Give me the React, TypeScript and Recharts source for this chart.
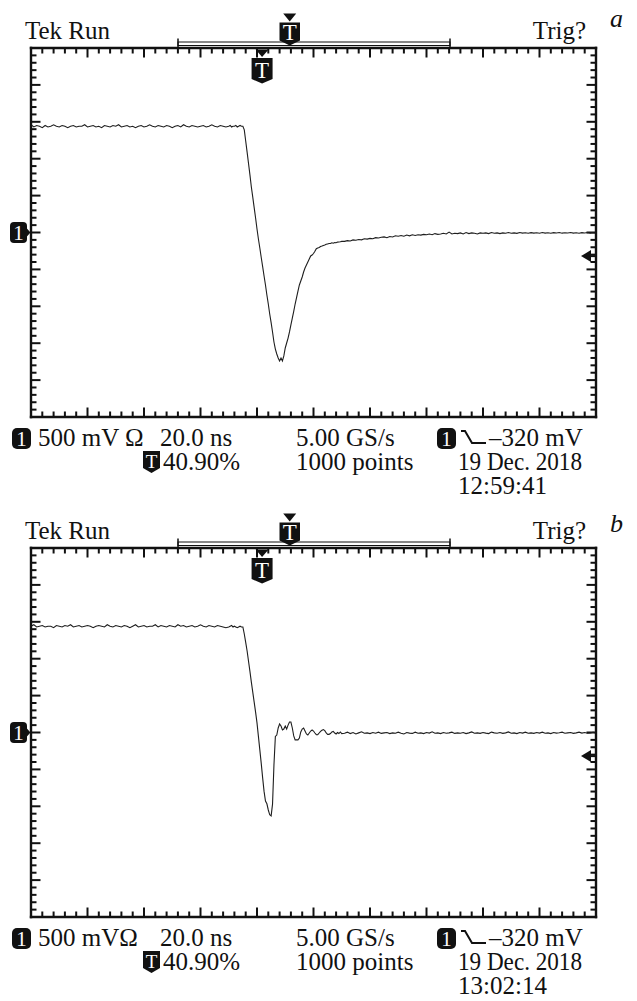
import React from 'react';
import { LineChart, Line, XAxis, YAxis, ReferenceLine } from 'recharts';

const FONT = "'Liberation Serif', 'Times New Roman', Times, serif";

// ---- sampling grid (ns): 1 ns outside the edge, 0.5 ns around the edge ----
function sampleGrid(start: number, end: number, step: number): number[] {
  const out: number[] = [];
  for (let t = start; t <= end + 1e-9; t += step) out.push(Math.round(t * 10) / 10);
  return out;
}
const timeNs = [...sampleGrid(0, 70, 1), ...sampleGrid(70.5, 110, 0.5), ...sampleGrid(111, 200, 1)];

// ---- panel a trace (V) ----
const preA = [
  1.46, 1.43, 1.45, 1.44, 1.42, 1.45, 1.43, 1.44, 1.46, 1.44,
  1.43, 1.45, 1.44, 1.42, 1.44, 1.45, 1.43, 1.44, 1.44, 1.46,
  1.43, 1.44, 1.45, 1.43, 1.44, 1.42, 1.45, 1.44, 1.43, 1.45,
  1.44, 1.46, 1.43, 1.44, 1.45, 1.43, 1.44, 1.42, 1.44, 1.45,
  1.43, 1.44, 1.46, 1.44, 1.43, 1.45, 1.44, 1.43, 1.45, 1.44,
  1.42, 1.44, 1.45, 1.43, 1.46, 1.44, 1.43, 1.45, 1.44, 1.43,
  1.44, 1.45, 1.43, 1.44, 1.46, 1.44, 1.43, 1.45, 1.44, 1.43,
  1.44,
];
const edgeA = [
  1.45, 1.43, 1.44, 1.44, 1.45, 1.43, 1.44, 1.45, 1.44, 1.44,
  1.39, 1.24, 1.09, 0.935, 0.78, 0.617, 0.48, 0.337, 0.196, 0.047,
  -0.088, -0.21, -0.339, -0.463, -0.589, -0.711, -0.847, -0.969, -1.104, -1.222,
  -1.348, -1.484, -1.579, -1.646, -1.7, -1.741, -1.7, -1.741, -1.673, -1.565,
  -1.497, -1.43, -1.348, -1.253, -1.159, -1.07, -0.969, -0.881, -0.793, -0.711,
  -0.657, -0.603, -0.535, -0.481, -0.44, -0.4, -0.359, -0.318, -0.305, -0.285,
  -0.255, -0.22, -0.21, -0.203, -0.19, -0.183, -0.175, -0.17, -0.16, -0.155,
  -0.15, -0.149, -0.14, -0.145, -0.135, -0.138, -0.13, -0.128, -0.125, -0.12,
];
const tailA = [
  -0.12, -0.11, -0.115, -0.1, -0.105, -0.095, -0.1, -0.085, -0.09, -0.08,
  -0.085, -0.07, -0.075, -0.065, -0.06, -0.07, -0.055, -0.06, -0.045, -0.05,
  -0.04, -0.05, -0.035, -0.045, -0.03, -0.04, -0.03, -0.035, -0.025, -0.03,
  -0.02, -0.03, -0.015, -0.025, -0.02, -0.01, -0.02, 0.005, -0.02, -0.01,
  -0.015, -0.005, -0.02, 0.0, -0.015, -0.005, -0.01, -0.02, -0.005, -0.01,
  -0.005, -0.015, 0.0, -0.01, -0.005, -0.015, -0.005, -0.01, 0.0, -0.01,
  -0.005, -0.012, 0.0, -0.008, -0.003, -0.01, -0.002, -0.008, -0.004, -0.01,
  0.0, -0.008, -0.003, -0.01, -0.002, -0.007, 0.0, -0.009, -0.003, -0.006,
  0.0, -0.008, -0.004, -0.01, -0.002, -0.006, 0.0, -0.008, -0.004, -0.006,
];

// ---- panel b trace (V) ----
const preB = [
  1.44, 1.46, 1.43, 1.44, 1.45, 1.43, 1.44, 1.44, 1.42, 1.45,
  1.44, 1.43, 1.45, 1.44, 1.46, 1.43, 1.44, 1.45, 1.43, 1.44,
  1.45, 1.44, 1.42, 1.44, 1.45, 1.44, 1.43, 1.46, 1.44, 1.43,
  1.45, 1.44, 1.43, 1.45, 1.44, 1.42, 1.44, 1.46, 1.43, 1.44,
  1.45, 1.43, 1.44, 1.44, 1.46, 1.43, 1.45, 1.44, 1.43, 1.45,
  1.44, 1.43, 1.46, 1.44, 1.45, 1.43, 1.44, 1.45, 1.43, 1.44,
  1.46, 1.44, 1.43, 1.45, 1.44, 1.43, 1.45, 1.44, 1.43, 1.42,
  1.43,
];
const edgeB = [
  1.44, 1.45, 1.43, 1.44, 1.43, 1.42, 1.43, 1.44, 1.43, 1.43,
  1.335, 1.22, 1.104, 0.966, 0.828, 0.683, 0.547, 0.412, 0.276, 0.13,
  -0.053, -0.236, -0.419, -0.615, -0.798, -0.928, -0.966, -1.05, -1.115, -1.13,
  -0.97, -0.44, -0.054, -0.034, 0.061, 0.115, 0.088, 0.034, 0.047, 0.088,
  0.047, 0.1, 0.142, 0.142, 0.061, -0.047, -0.1, -0.1, -0.1, -0.075,
  0.007, 0.047, 0.061, 0.02, -0.02, -0.034, -0.007, 0.02, 0.034, 0.02,
  -0.007, -0.03, -0.03, -0.007, 0.015, 0.03, 0.04, 0.025, -0.007, -0.025,
  -0.025, -0.015, 0.007, 0.015, -0.007, -0.02, 0.0, -0.014, 0.007, -0.015,
];
const tailB = [
  -0.01, 0.005, -0.015, 0.0, -0.02, -0.005, 0.01, -0.01, -0.005, -0.015,
  0.0, -0.01, 0.005, -0.012, -0.005, 0.0, -0.015, -0.005, -0.01, 0.005,
  -0.01, -0.02, 0.0, -0.008, -0.012, 0.005, -0.01, -0.005, -0.015, 0.0,
  -0.008, 0.01, -0.01, -0.005, -0.015, 0.0, -0.01, -0.005, 0.005, -0.012,
  -0.005, -0.01, 0.0, -0.015, -0.005, 0.008, -0.01, -0.005, -0.012, 0.0,
  -0.008, -0.015, 0.005, -0.005, -0.01, 0.0, -0.012, -0.005, 0.008, -0.01,
  -0.005, -0.015, 0.0, -0.008, 0.005, -0.01, -0.005, -0.012, 0.0, -0.008,
  0.005, -0.01, -0.005, -0.015, 0.0, -0.008, -0.003, 0.005, -0.01, -0.005,
  0.0, -0.012, -0.005, 0.005, -0.008, 0.0, -0.01, -0.005, 0.003, -0.005,
];

const traceA = [...preA, ...edgeA, ...tailA];
const traceB = [...preB, ...edgeB, ...tailB];

// ---- graticule ticks (every minor tick; majors every 20 ns / 0.5 V) ----
const xTicksNs = [
  0, 4, 8, 12, 16, 20, 24, 28, 32, 36, 40, 44, 48, 52, 56, 60, 64, 68, 72, 76, 80, 84, 88, 92, 96, 100,
  104, 108, 112, 116, 120, 124, 128, 132, 136, 140, 144, 148, 152, 156, 160, 164, 168, 172, 176, 180,
  184, 188, 192, 196, 200,
];
const yTicksV = [
  -2.5, -2.4, -2.3, -2.2, -2.1, -2, -1.9, -1.8, -1.7, -1.6, -1.5, -1.4, -1.3, -1.2, -1.1, -1, -0.9, -0.8,
  -0.7, -0.6, -0.5, -0.4, -0.3, -0.2, -0.1, 0, 0.1, 0.2, 0.3, 0.4, 0.5, 0.6, 0.7, 0.8, 0.9, 1, 1.1, 1.2,
  1.3, 1.4, 1.5, 1.6, 1.7, 1.8, 1.9, 2, 2.1, 2.2, 2.3, 2.4, 2.5,
];
const X_DIV_NS = 20;
const Y_DIV_V = 0.5;

const TRIGGER_TIME_NS = 81.8; // 40.90 % of 200 ns
const TRIGGER_LEVEL_V = -0.32;

const chartData = timeNs.map((t, i) => ({ t, a: traceA[i], b: traceB[i] }));

const INK = '#111';
const AXIS_THIN = 0.01; // axes need a positive size to render
const frameStyle = { stroke: INK, strokeWidth: 2.4, strokeLinecap: 'square' as const };
const TICK_W = 2;
const MAJOR_LEN = 9.5;
const MINOR_LEN = 5.5;

const isMultiple = (v: number, step: number) => Math.abs(v / step - Math.round(v / step)) < 1e-6;

// vertical reference line -> short tick marks at the top and bottom frame only
function vTickShape(major: boolean) {
  const len = major ? MAJOR_LEN : MINOR_LEN;
  return (p: any) => {
    const x = p.x1;
    const top = Math.min(p.y1, p.y2);
    const bot = Math.max(p.y1, p.y2);
    return (
      <g>
        <line x1={x} y1={top} x2={x} y2={top + len} stroke={INK} strokeWidth={TICK_W} />
        <line x1={x} y1={bot} x2={x} y2={bot - len} stroke={INK} strokeWidth={TICK_W} />
      </g>
    );
  };
}
// horizontal reference line -> short tick marks at the left and right frame only
function hTickShape(major: boolean) {
  const len = major ? MAJOR_LEN : MINOR_LEN;
  return (p: any) => {
    const y = p.y1;
    const left = Math.min(p.x1, p.x2);
    const right = Math.max(p.x1, p.x2);
    return (
      <g>
        <line x1={left} y1={y} x2={left + len} y2={y} stroke={INK} strokeWidth={TICK_W} />
        <line x1={right} y1={y} x2={right - len} y2={y} stroke={INK} strokeWidth={TICK_W} />
      </g>
    );
  };
}

function vbOf(props: any) {
  return props && props.viewBox ? props.viewBox : props;
}

const GroundMarker = (props: any) => {
  const vb = vbOf(props);
  const x = vb.x;
  const y = vb.y;
  return (
    <g>
      <rect x={x - 21} y={y - 10.5} width={17} height={21} rx={4} fill={INK} />
      <path d={`M${x - 5} ${y - 5} L${x - 0.5} ${y} L${x - 5} ${y + 5} Z`} fill={INK} />
      <text x={x - 12.5} y={y + 7.5} fill="#fff" fontSize={21} fontFamily={FONT} textAnchor="middle">1</text>
    </g>
  );
};

const LevelArrow = (props: any) => {
  const vb = vbOf(props);
  const xr = vb.x + vb.width;
  const y = vb.y;
  return (
    <g>
      <path d={`M${xr - 15} ${y} L${xr - 5} ${y - 6} L${xr - 5} ${y + 6} Z`} fill={INK} />
      <line x1={xr - 6} y1={y} x2={xr} y2={y} stroke={INK} strokeWidth={2} />
    </g>
  );
};

const TriggerMarker = (props: any) => {
  const vb = vbOf(props);
  const cx = vb.x;
  const top = vb.y;
  return (
    <g>
      <path d={`M${cx - 6.5} ${top + 1.5} L${cx + 6.5} ${top + 1.5} L${cx} ${top + 9} Z`} fill={INK} />
      <path
        d={`M${cx - 10.5} ${top + 10} H${cx + 10.5} V${top + 31} L${cx} ${top + 35.5} L${cx - 10.5} ${top + 31} Z`}
        fill={INK}
      />
      <text x={cx} y={top + 30} fill="#fff" fontSize={23} fontFamily={FONT} textAnchor="middle">T</text>
    </g>
  );
};

function Badge1({ x, y }: { x: number; y: number }) {
  return (
    <g>
      <rect x={x} y={y} width={19} height={21} rx={5} fill={INK} />
      <text x={x + 9.5} y={y + 18} fill="#fff" fontSize={21} fontFamily={FONT} textAnchor="middle">1</text>
    </g>
  );
}

function ShieldT({ x, y, w, h, fs }: { x: number; y: number; w: number; h: number; fs: number }) {
  const cx = x + w / 2;
  return (
    <g>
      <path d={`M${x} ${y} H${x + w} V${y + h - 5} L${cx} ${y + h} L${x} ${y + h - 5} Z`} fill={INK} />
      <text x={cx} y={y + h - 5.5} fill="#fff" fontSize={fs} fontFamily={FONT} textAnchor="middle">T</text>
    </g>
  );
}

type PanelProps = {
  dataKey: string;
  letter: string;
  letterY: number;
  scaleText: string;
  stamp: string;
};

function ScopePanel({ dataKey, letter, letterY, scaleText, stamp }: PanelProps) {
  const fs = 25;
  const xCommon = { dataKey: 't', type: 'number' as const, domain: [0, 200], allowDataOverflow: true, mirror: true,
    height: AXIS_THIN, tick: false, tickLine: false, ticks: [0, 200], axisLine: frameStyle };
  const yCommon = { type: 'number' as const, domain: [-2.5, 2.5], allowDataOverflow: true, mirror: true,
    width: AXIS_THIN, tick: false, tickLine: false, ticks: [-2.5, 2.5], axisLine: frameStyle };
  return (
    <div style={{ position: 'relative', width: 637, height: 500 }}>
      <LineChart width={637} height={500} data={chartData} margin={{ top: 48, right: 41, bottom: 83, left: 31 }}>
        <XAxis {...xCommon} xAxisId="xb" orientation="bottom" />
        <XAxis {...xCommon} xAxisId="xt" orientation="top" />
        <YAxis {...yCommon} yAxisId="yl" orientation="left" />
        <YAxis {...yCommon} yAxisId="yr" orientation="right" />
        {xTicksNs.map((t) => (
          <ReferenceLine key={`vx${t}`} xAxisId="xb" yAxisId="yl" x={t} ifOverflow="visible"
            shape={vTickShape(isMultiple(t, X_DIV_NS))} />
        ))}
        {yTicksV.map((v) => (
          <ReferenceLine key={`hy${v}`} xAxisId="xb" yAxisId="yl" y={v} ifOverflow="visible"
            shape={hTickShape(isMultiple(v, Y_DIV_V))} />
        ))}
        <Line xAxisId="xb" yAxisId="yl" dataKey={dataKey} type="linear" stroke="#1e1e1e" strokeWidth={1.1}
          dot={false} activeDot={false} isAnimationActive={false} />
        <ReferenceLine xAxisId="xb" yAxisId="yl" y={0} stroke="none" strokeOpacity={0} label={GroundMarker} />
        <ReferenceLine xAxisId="xb" yAxisId="yl" y={TRIGGER_LEVEL_V} stroke="none" strokeOpacity={0} label={LevelArrow} />
        <ReferenceLine xAxisId="xb" yAxisId="yl" x={TRIGGER_TIME_NS} stroke="none" strokeOpacity={0} label={TriggerMarker} />
      </LineChart>
      <svg width={637} height={500} style={{ position: 'absolute', left: 0, top: 0, pointerEvents: 'none', fontFamily: FONT }}
        fill={INK}>
        <text x={25} y={39} fontSize={fs}>Tek Run</text>
        <text x={586} y={39} fontSize={fs} textAnchor="end">Trig?</text>
        <text x={610} y={letterY} fontSize={26} fontStyle="italic">{letter}</text>
        {/* record bar */}
        <rect x={178} y={42} width={272} height={3.5} fill="#fff" stroke={INK} strokeWidth={1} />
        <line x1={178} y1={38.5} x2={178} y2={48} stroke={INK} strokeWidth={1.5} />
        <line x1={450} y1={38.5} x2={450} y2={48} stroke={INK} strokeWidth={1.5} />
        <path d="M283.2 13.5 L296.2 13.5 L289.7 21.5 Z" fill={INK} />
        <ShieldT x={279.5} y={22.5} w={20.5} h={23} fs={23} />
        {/* readouts */}
        <Badge1 x={12} y={428} />
        <text x={38} y={446} fontSize={fs}>{scaleText}</text>
        <text x={160} y={446} fontSize={fs}>20.0 ns</text>
        <text x={296} y={446} fontSize={fs}>5.00 GS/s</text>
        <Badge1 x={437} y={428} />
        <polyline points="461,431 465,431 472,443 486,443" fill="none" stroke={INK} strokeWidth={2} />
        <text x={489} y={446} fontSize={fs}>–320 mV</text>
        <ShieldT x={143} y={451} w={17} h={22} fs={19} />
        <text x={163} y={470} fontSize={fs}>40.90%</text>
        <text x={296} y={470} fontSize={fs}>1000 points</text>
        <text x={458} y={470} fontSize={fs} textLength={124} lengthAdjust="spacingAndGlyphs">19 Dec. 2018</text>
        <text x={458} y={494} fontSize={fs}>{stamp}</text>
      </svg>
    </div>
  );
}

export default function App() {
  return (
    <div style={{ position: 'absolute', left: 0, top: 0, width: 637, height: 1001, background: '#fff' }}>
      <ScopePanel dataKey="a" letter="a" letterY={27} scaleText="500 mV Ω" stamp="12:59:41" />
      <ScopePanel dataKey="b" letter="b" letterY={32} scaleText="500 mVΩ" stamp="13:02:14" />
    </div>
  );
}
